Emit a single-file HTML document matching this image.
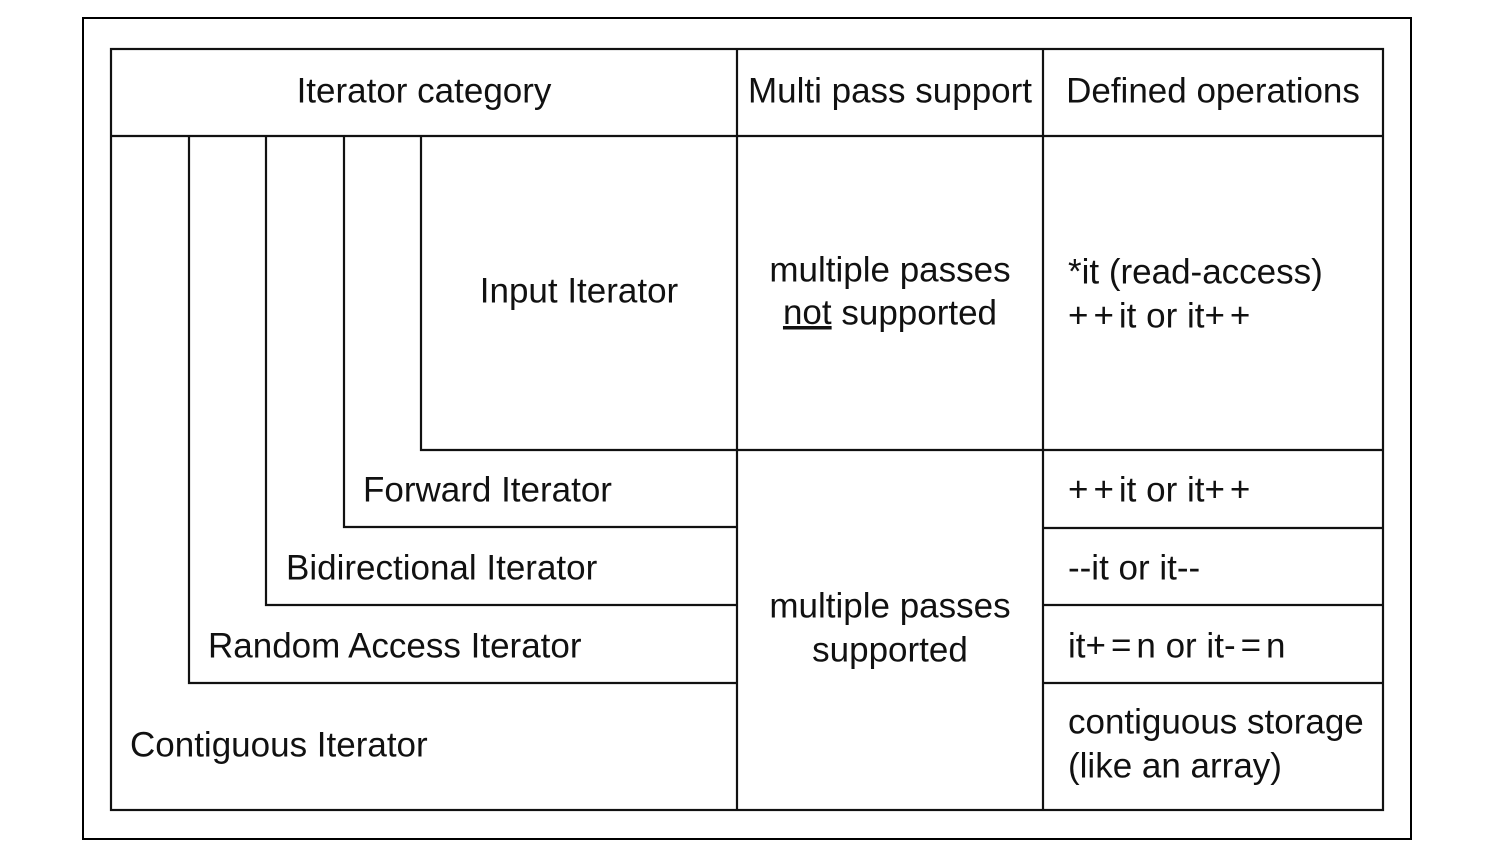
<!DOCTYPE html>
<html><head><meta charset="utf-8"><style>
html,body{margin:0;padding:0;background:#fff;}
svg text{font-family:"Liberation Sans","DejaVu Sans",sans-serif;font-size:35px;fill:#111;}
.op{letter-spacing:5px;}
</style></head><body>
<svg width="1496" height="862" viewBox="0 0 1496 862" xmlns="http://www.w3.org/2000/svg">
<rect x="0" y="0" width="1496" height="862" fill="#fff"/>
<rect x="83" y="18" width="1328" height="821" fill="none" stroke="#000" stroke-width="2"/>
<g stroke="#111" stroke-width="2.2" fill="none">
<rect x="111" y="49" width="1272" height="761"/>
<line x1="111" y1="136" x2="1383" y2="136"/>
<line x1="737" y1="49" x2="737" y2="810"/>
<line x1="1043" y1="49" x2="1043" y2="810"/>
<polyline points="189,136 189,683 737,683"/>
<polyline points="266,136 266,605 737,605"/>
<polyline points="344,136 344,527 737,527"/>
<polyline points="421,136 421,450 737,450"/>
<line x1="737" y1="450" x2="1383" y2="450"/>
<line x1="1043" y1="528" x2="1383" y2="528"/>
<line x1="1043" y1="605" x2="1383" y2="605"/>
<line x1="1043" y1="683" x2="1383" y2="683"/>
</g>
<g dominant-baseline="middle">
<text x="424" y="93" text-anchor="middle">Iterator category</text>
<text x="890" y="93" text-anchor="middle">Multi pass support</text>
<text x="1213" y="93" text-anchor="middle">Defined operations</text>
<text x="579" y="293" text-anchor="middle">Input Iterator</text>
<text x="890" y="272" text-anchor="middle">multiple passes</text>
<text x="890" y="315" text-anchor="middle"><tspan text-decoration="underline">not</tspan> supported</text>
<text x="1068" y="274">*it (read-access)</text>
<text x="1068" y="318"><tspan class="op">++</tspan>it or it<tspan class="op">++</tspan></text>
<text x="363" y="492">Forward Iterator</text>
<text x="286" y="570">Bidirectional Iterator</text>
<text x="208" y="648">Random Access Iterator</text>
<text x="130" y="747">Contiguous Iterator</text>
<text x="890" y="608" text-anchor="middle">multiple passes</text>
<text x="890" y="652" text-anchor="middle">supported</text>
<text x="1068" y="492"><tspan class="op">++</tspan>it or it<tspan class="op">++</tspan></text>
<text x="1068" y="570">--it or it--</text>
<text x="1068" y="648">it<tspan class="op">+=</tspan>n or it<tspan class="op">-=</tspan>n</text>
<text x="1068" y="724">contiguous storage</text>
<text x="1068" y="768">(like an array)</text>
</g>
</svg>
</body></html>
